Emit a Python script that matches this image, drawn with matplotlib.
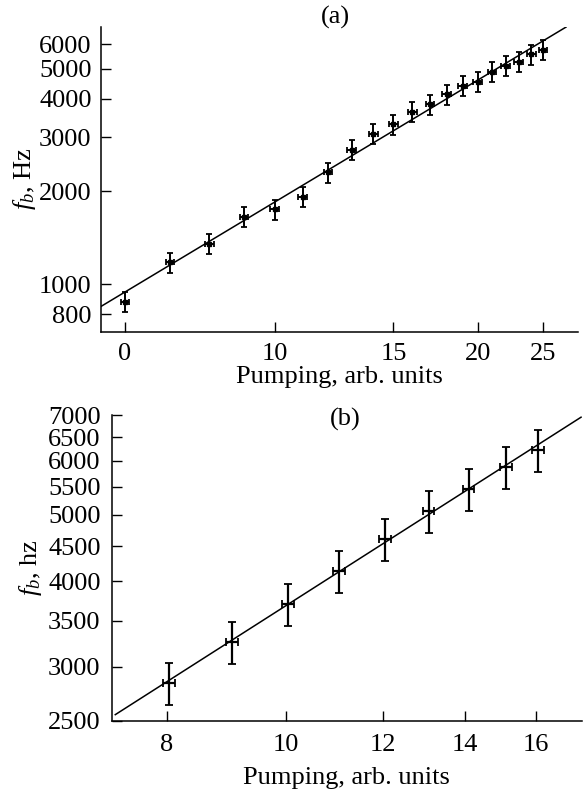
import matplotlib
matplotlib.use("Agg")
import matplotlib.pyplot as plt
from matplotlib.ticker import FixedLocator, FixedFormatter, NullLocator

plt.rcParams['font.family'] = ['Liberation Serif', 'DejaVu Serif']
plt.rcParams['mathtext.fontset'] = 'custom'
plt.rcParams['mathtext.rm'] = 'Liberation Serif'
plt.rcParams['mathtext.it'] = 'Liberation Serif:italic'

# ---- panel (a) data ----
a_x = [6, 7, 8, 9, 10, 11, 12, 13, 14, 15, 16, 17, 18, 19, 20, 21, 22, 23, 24, 25]
a_f = [878, 1178, 1351, 1656, 1751, 1923, 2307, 2725, 3071, 3302,
       3627, 3833, 4131, 4395, 4528, 4890, 5114, 5269, 5568, 5750]
a_yerr = [66, 88, 101, 124, 131, 144, 173, 204, 230, 248,
          272, 287, 310, 330, 340, 367, 384, 395, 418, 431]
a_xerr = [0.09, 0.10, 0.12, 0.13, 0.15, 0.16, 0.18, 0.19, 0.21, 0.22,
          0.24, 0.25, 0.27, 0.28, 0.30, 0.31, 0.33, 0.34, 0.36, 0.37]
a_fit_x = [5.52, 27.09]
a_fit_f = [846, 6842]
a_xticks = [6, 10, 15, 20, 25]
a_xticklabels = ["0", "10", "15", "20", "25"]
a_yticks = [800, 1000, 2000, 3000, 4000, 5000, 6000]

# ---- panel (b) data ----
b_x = [8.03, 9.04, 10.04, 11.05, 12.05, 13.08, 14.1, 15.11, 16.07]
b_f = [2835, 3255, 3704, 4139, 4604, 5066, 5453, 5868, 6219]
b_yerr = [198, 228, 259, 290, 322, 355, 382, 411, 435]
b_xerr = [0.09, 0.10, 0.11, 0.12, 0.13, 0.14, 0.15, 0.17, 0.18]
b_fit_x = [7.25, 17.43]
b_fit_f = [2548, 6958]
b_xticks = [8, 10, 12, 14, 16]
b_xticklabels = ["8", "10", "12", "14", "16"]
b_yticks = [2500, 3000, 3500, 4000, 4500, 5000, 5500, 6000, 6500, 7000]

W, H = 584, 793
fig = plt.figure(figsize=(W / 100, H / 100), dpi=100)

def px_axes(l, r, t, b):
    return fig.add_axes([l / W, 1 - b / H, (r - l) / W, (b - t) / H])

axA = px_axes(100.7, 578, 26.7, 331.7)
axB = px_axes(111.7, 582, 415, 720.7)

FS = 19

def style(ax, xticks, xlabels, yticks, ypad, xpad):
    ax.set_xscale('log')
    ax.set_yscale('log')
    for s in ['top', 'right']:
        ax.spines[s].set_visible(False)
    for s in ['left', 'bottom']:
        ax.spines[s].set_linewidth(1.1)
    ax.xaxis.set_major_locator(FixedLocator(xticks))
    ax.xaxis.set_major_formatter(FixedFormatter(xlabels))
    ax.xaxis.set_minor_locator(NullLocator())
    ax.yaxis.set_major_locator(FixedLocator(yticks))
    ax.yaxis.set_major_formatter(FixedFormatter([str(v) for v in yticks]))
    ax.yaxis.set_minor_locator(NullLocator())
    ax.tick_params(direction='in', length=7, width=1.0, labelsize=FS)
    ax.tick_params(axis='y', pad=ypad)
    ax.tick_params(axis='x', pad=xpad)

# panel (a)
axA.plot(a_fit_x, a_fit_f, color='black', lw=1.1, solid_capstyle='butt')
axA.errorbar(a_x, a_f, yerr=a_yerr, xerr=a_xerr, fmt='none', ecolor='black',
             elinewidth=1.4, capsize=2.2, capthick=1.3)
axA.plot(a_x, a_f, ls='none', marker='s', ms=3.5, color='black')
style(axA, a_xticks, a_xticklabels, a_yticks, ypad=6.5, xpad=8)
axA.set_xlim(5.523, 28.16)
axA.set_ylim(702, 6842)
axA.set_xlabel('Pumping, arb. units', fontsize=FS, labelpad=1)
axA.set_ylabel(r'$f_b$, Hz', fontsize=FS, labelpad=1)

# panel (b)
axB.plot(b_fit_x, b_fit_f, color='black', lw=1.1, solid_capstyle='butt')
axB.errorbar(b_x, b_f, yerr=b_yerr, xerr=b_xerr, fmt='none', ecolor='black',
             elinewidth=1.6, capsize=3.0, capthick=1.3)
style(axB, b_xticks, b_xticklabels, b_yticks, ypad=8, xpad=9.5)
axB.set_xlim(7.21, 17.44)
axB.set_ylim(2500, 7000)
axB.set_xlabel('Pumping, arb. units', fontsize=FS, labelpad=8)
axB.set_ylabel(r'$f_b$, hz', fontsize=FS, labelpad=3)

fig.text(335 / W, 1 - 17 / H, '(a)', ha='center', va='center', fontsize=FS)
fig.text(345 / W, 1 - 419 / H, '(b)', ha='center', va='center', fontsize=FS)

fig.savefig('out.png', dpi=100)
